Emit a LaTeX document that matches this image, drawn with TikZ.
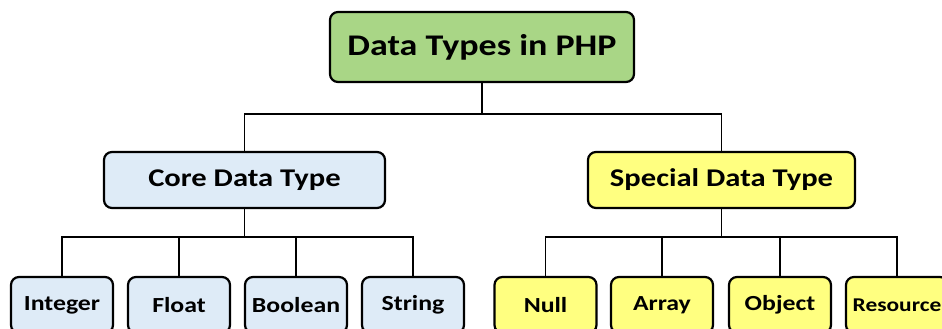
\documentclass[tikz,border=0pt]{standalone}
\usepackage{fontspec}
\setmainfont{Carlito}
\newfontfamily\boxfont[FakeStretch=1.2]{Carlito}
\definecolor{topgreen}{RGB}{169,214,134}
\definecolor{coreblue}{RGB}{222,235,247}
\definecolor{specyellow}{RGB}{255,255,128}
\begin{document}
\begin{tikzpicture}[x=1pt,y=-1pt]
    \tikzstyle{box}=[draw=black, line width=2.2pt, rounded corners=8pt, inner sep=0pt]
    \tikzstyle{leaf}=[box, minimum width=102pt, minimum height=56pt, font=\boxfont\bfseries\fontsize{21.5}{24}\selectfont]
    \tikzstyle{link}=[line width=1.5pt]
    \useasboundingbox (0,0) rectangle (942,329);
    \node[box, fill=topgreen, minimum width=304pt, minimum height=70pt, font=\boxfont\bfseries\fontsize{30}{36}\selectfont] (php) at (482,47) {Data Types in PHP};
    \node[box, fill=coreblue, minimum width=281pt, minimum height=56pt, font=\boxfont\bfseries\fontsize{25.5}{28}\selectfont] (core) at (244.5,180) {Core Data Type};
    \node[box, fill=specyellow, minimum width=267pt, minimum height=56pt, font=\boxfont\bfseries\fontsize{25.5}{28}\selectfont] (special) at (721.5,180) {Special Data Type};
    \node[leaf, fill=coreblue] (int) at (62,305) {Integer};
    \node[leaf, fill=coreblue] (flt) at (179,305) {Float};
    \node[leaf, fill=coreblue] (bool) at (296,305) {Boolean};
    \node[leaf, fill=coreblue] (str) at (413,305) {String};
    \node[leaf, fill=specyellow] (null) at (545.5,305) {Null};
    \node[leaf, fill=specyellow] (arr) at (662,305) {Array};
    \node[leaf, fill=specyellow] (obj) at (780,305) {Object};
    \node[leaf, fill=specyellow, font=\boxfont\bfseries\fontsize{19.5}{22}\selectfont] (res) at (897,305) {Resource};
    \coordinate (bus0) at (482,114);
    \coordinate (bus1) at (244.5,237);
    \coordinate (bus2) at (721.5,237);
    \draw[link] (php.south) -- (bus0);
    \draw[link] (core.north) |- (bus0) -| (special.north);
    \draw[link] (core.south) -- (bus1);
    \draw[link] (int.north) |- (bus1) -| (str.north);
    \draw[link] (flt.north) -- (flt.north |- bus1);
    \draw[link] (bool.north) -- (bool.north |- bus1);
    \draw[link] (special.south) -- (bus2);
    \draw[link] (null.north) |- (bus2) -| (res.north);
    \draw[link] (arr.north) -- (arr.north |- bus2);
    \draw[link] (obj.north) -- (obj.north |- bus2);
\end{tikzpicture}
\end{document}
